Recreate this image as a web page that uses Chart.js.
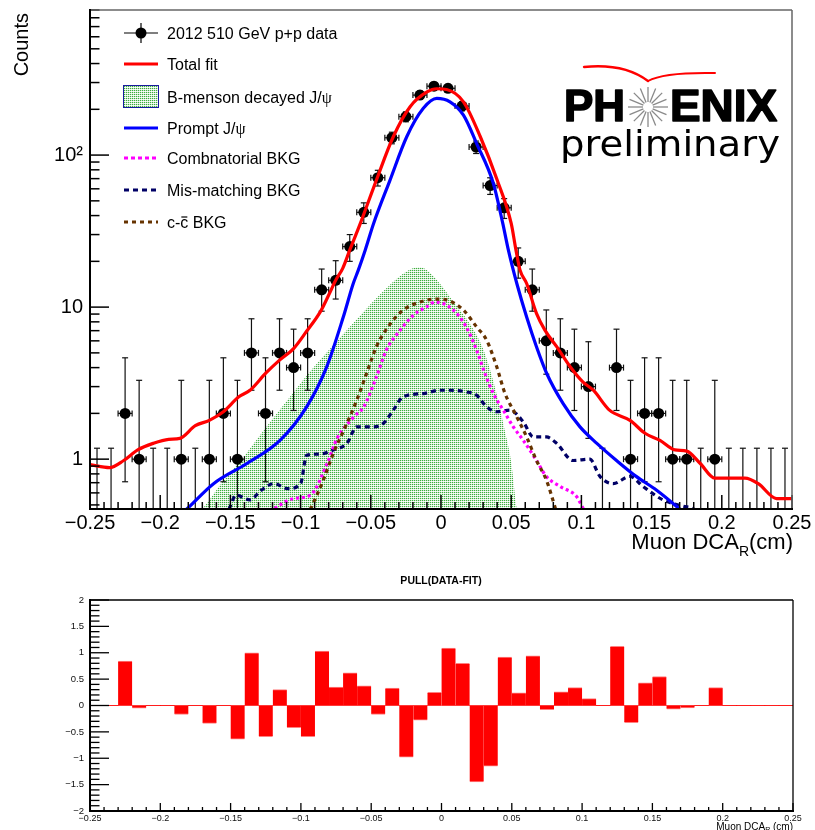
<!DOCTYPE html>
<html>
<head>
<meta charset="utf-8">
<title>Muon DCA_R fit</title>
<script src="https://cdn.jsdelivr.net/npm/chart.js@4.4.1/dist/chart.umd.min.js"></script>
<style>
  html, body { margin: 0; padding: 0; background: #fff; }
  #wrap { position: relative; width: 815px; height: 830px; overflow: hidden; }
  #mainChart { position: absolute; left: 0; top: 0; }
  #pullChart { position: absolute; left: 0; top: 570px; }
</style>
</head>
<body>
<div id="wrap">
  <canvas id="mainChart" width="815" height="560"></canvas>
  <canvas id="pullChart" width="815" height="260"></canvas>
</div>
<script>
const SANS = "'Liberation Sans', Arial, Helvetica, sans-serif";
Chart.defaults.font.family = SANS;
Chart.defaults.color = '#000';

// histogram bins (Muon DCA_R, cm)
const binCenters = [-0.245, -0.235, -0.225, -0.215, -0.205, -0.195, -0.185, -0.175, -0.165, -0.155,
                    -0.145, -0.135, -0.125, -0.115, -0.105, -0.095, -0.085, -0.075, -0.065, -0.055,
                    -0.045, -0.035, -0.025, -0.015, -0.005, 0.005, 0.015, 0.025, 0.035, 0.045,
                    0.055, 0.065, 0.075, 0.085, 0.095, 0.105, 0.115, 0.125, 0.135, 0.145,
                    0.155, 0.165, 0.175, 0.185, 0.195, 0.205, 0.215, 0.225, 0.235, 0.245];
const binWidth = 0.01;

// 2012 510 GeV p+p data
const counts = [0, 0, 2, 1, 0, 0, 1, 0, 1, 2,
                1, 5, 2, 5, 4, 5, 13, 15, 25, 42,
                71, 130, 179, 248, 284, 275, 210, 113, 63, 45,
                20, 13, 6, 5, 4, 3, 0, 4, 1, 2,
                2, 1, 1, 0, 1, 0, 0, 0, 0, 0];
const errLo = [0, 0, 0.71, 0.17, 0, 0, 0.17, 0, 0.17, 0.71,
               0.17, 2.84, 0.71, 2.84, 2.09, 2.84, 9.4, 11.3, 20, 35.5,
               62.6, 118.6, 165.6, 232.3, 267.1, 258.4, 195.5, 102.4, 55.1, 38.3,
               15.5, 9.4, 3.62, 2.84, 2.09, 1.37, 0, 2.09, 0.17, 0.71,
               0.71, 0.17, 0.17, 0, 0.17, 0, 0, 0, 0, 0];
const errHi = [1.18, 1.18, 4.64, 3.3, 1.18, 1.18, 3.3, 1.18, 3.3, 4.64,
               3.3, 8.38, 4.64, 8.38, 7.16, 8.38, 17.8, 20.2, 30, 48.5,
               79.4, 141.4, 192.4, 263.7, 300.9, 291.6, 224.5, 123.6, 70.9, 51.7,
               24.5, 17.8, 9.58, 8.38, 7.16, 5.92, 1.18, 7.16, 3.3, 4.64,
               4.64, 3.3, 3.3, 1.18, 3.3, 1.18, 1.18, 1.18, 1.18, 1.18];

// pull (data - fit)
const pull = [0, 0, 0.84, -0.05, 0, 0, -0.17, 0, -0.34, 0,
              -0.64, 1.0, -0.59, 0.30, -0.42, -0.59, 1.03, 0.35, 0.62, 0.375,
              -0.17, 0.33, -0.98, -0.28, 0.25, 1.09, 0.80, -1.45, -1.15, 0.92,
              0.24, 0.94, -0.08, 0.26, 0.34, 0.13, 0, 1.12, -0.325, 0.43,
              0.55, -0.07, -0.045, 0, 0.34, 0, 0, 0, 0, 0];

// fit components
const fitX = [-0.25, -0.236, -0.226, -0.216, -0.205, -0.194, -0.186, -0.175, -0.165, -0.155,
              -0.144, -0.136, -0.125, -0.115, -0.105, -0.096, -0.086, -0.08, -0.075, -0.07,
              -0.065, -0.058, -0.046, -0.034, -0.022, -0.01, -0.003, 0.004, 0.016, 0.028,
              0.04, 0.05, 0.0534, 0.0563, 0.061, 0.068, 0.074, 0.0824, 0.092, 0.101,
              0.1085, 0.12, 0.1346, 0.1453, 0.156, 0.1667, 0.175, 0.1845, 0.195, 0.2058,
              0.2165, 0.226, 0.239, 0.25];
const fitY = [0.92, 0.88, 0.98, 1.15, 1.27, 1.35, 1.37, 1.66, 1.80, 2.05,
              2.57, 2.84, 3.66, 4.48, 5.34, 6.88, 9.3, 12, 15, 18,
              23.7, 34.5, 68.5, 132, 208, 260, 273, 270, 224, 132,
              68.5, 35.5, 23.7, 17.5, 14.3, 9.1, 7.06, 5.49, 4.05, 3.22,
              2.84, 2.10, 1.80, 1.48, 1.33, 1.15, 1.13, 0.94, 0.75, 0.75,
              0.75, 0.69, 0.55, 0.55];

const promptX = [-0.187, -0.181, -0.162, -0.138, -0.1147, -0.0957, -0.0814, -0.0696, -0.0625, -0.0589,
                 -0.054, -0.048, -0.0363, -0.0244, -0.0126, -0.003, 0.0064, 0.016, 0.0254, 0.0373,
                 0.044, 0.048, 0.054, 0.061, 0.068, 0.0753, 0.087, 0.099, 0.111, 0.125,
                 0.139, 0.1536, 0.170, 0.176];
const promptY = [0.42, 0.47, 0.69, 0.94, 1.33, 2.21, 4.05, 8.6, 14.3, 17.5,
                 23.7, 35.5, 68.5, 132, 203, 236, 224, 183, 119, 65,
                 35.5, 23.7, 14.3, 8.6, 5.49, 3.66, 2.32, 1.63, 1.27, 0.98,
                 0.77, 0.625, 0.47, 0.42];

const bmesonX = [-0.176, -0.17, -0.155, -0.14, -0.125, -0.11, -0.095, -0.08, -0.065, -0.05,
                 -0.04, -0.03, -0.02, -0.015, -0.01, 0, 0.01, 0.02, 0.03, 0.04,
                 0.045, 0.05, 0.054, 0.056];
const bmesonY = [0.42, 0.47, 0.72, 1.05, 1.6, 2.4, 3.6, 5.2, 7.4, 10.5,
                 13, 15.8, 18.0, 18.3, 17.5, 14.0, 10.5, 7.9, 5.3, 2.6,
                 1.6, 0.95, 0.47, 0.42];

const combX = [-0.125, -0.118, -0.105, -0.093, -0.081, -0.074, -0.062, -0.055, -0.046, -0.039,
               -0.029, -0.0197, -0.0102, -0.004, 0.0088, 0.018, 0.0254, 0.0313, 0.0373, 0.0444,
               0.0515, 0.0586, 0.068, 0.075, 0.085, 0.0967, 0.1015, 0.105];
const combY = [0.42, 0.476, 0.55, 0.58, 0.94, 1.37, 1.90, 2.21, 3.48, 5.2,
               7.06, 8.85, 10.05, 10.8, 9.55, 7.4, 5.2, 3.66, 2.7, 2.1,
               1.63, 1.33, 0.98, 0.77, 0.66, 0.565, 0.47, 0.42];

const misX = [-0.155, -0.151, -0.146, -0.136, -0.128, -0.119, -0.109, -0.1, -0.0957, -0.086,
              -0.0767, -0.067, -0.06, -0.048, -0.041, -0.034, -0.027, -0.0126, -0.0007, 0.0064,
              0.018, 0.0254, 0.0325, 0.0397, 0.049, 0.0586, 0.0657, 0.075, 0.0824, 0.094,
              0.106, 0.1132, 0.1227, 0.1346, 0.144, 0.158, 0.1726, 0.18, 0.185];
const misY = [0.42, 0.47, 0.58, 0.54, 0.625, 0.69, 0.64, 0.69, 1.06, 1.08,
              1.15, 1.27, 1.63, 1.63, 1.72, 2.10, 2.57, 2.70, 2.84, 2.84,
              2.77, 2.63, 2.21, 2.05, 2.1, 1.76, 1.40, 1.40, 1.27, 0.98,
              1.0, 0.77, 0.69, 0.77, 0.66, 0.54, 0.49, 0.47, 0.42];

const ccbarX = [-0.096, -0.093, -0.0838, -0.0767, -0.067, -0.06, -0.053, -0.046, -0.036, -0.027,
                -0.015, -0.003, 0.006, 0.016, 0.0254, 0.0325, 0.0397, 0.0456, 0.0527, 0.061,
                0.068, 0.075, 0.081, 0.083];
const ccbarY = [0.42, 0.47, 0.73, 1.09, 1.72, 2.44, 3.66, 5.49, 7.8, 9.55,
                10.8, 11.3, 11.0, 9.55, 7.4, 6.06, 4.05, 2.7, 2.0, 1.40,
                0.98, 0.73, 0.49, 0.42];

// axis ticks
const xTicks = [-0.25, -0.2, -0.15, -0.1, -0.05, 0, 0.05, 0.1, 0.15, 0.2, 0.25];
const yTicks = [1, 10, 100];
const yTickLabels = ['1', '10', '10\u00b2'];
const pullTicks = [-2, -1.5, -1, -0.5, 0, 0.5, 1, 1.5, 2];

const zip = (xs, ys) => xs.slice(0, Math.min(xs.length, ys.length)).map((x, i) => ({ x: x, y: ys[i] }));

function fmtTick(v) {
  const s = String(Math.round(v * 100) / 100);
  return s === '-0' ? '0' : s.replace('-', '\u2212');
}

function line(ctx, x1, y1, x2, y2) {
  ctx.beginPath();
  ctx.moveTo(x1, y1);
  ctx.lineTo(x2, y2);
  ctx.stroke();
}

// ROOT-like stippled green fill
function makeStipple(ctx) {
  const c = document.createElement('canvas');
  c.width = 2; c.height = 2;
  const g = c.getContext('2d');
  g.fillStyle = '#ffffff'; g.fillRect(0, 0, 2, 2);
  g.fillStyle = '#3fae3f'; g.fillRect(0, 0, 1, 1);
  g.fillStyle = '#c6e8c6'; g.fillRect(1, 0, 1, 1);
  g.fillStyle = '#e2f3e2'; g.fillRect(0, 1, 1, 1);
  return ctx.createPattern(c, 'repeat');
}

const mainCtx = document.getElementById('mainChart').getContext('2d');
const stipple = makeStipple(mainCtx);

function curve(label, xs, ys, color, dash) {
  return {
    label: label,
    data: zip(xs, ys),
    showLine: true,
    borderColor: color,
    borderWidth: 3.2,
    borderDash: dash,
    pointRadius: 0,
    cubicInterpolationMode: 'monotone',
    clip: 0
  };
}

// ---------------- legend + logo ----------------
const legendRows = [33, 64, 97, 128, 158, 190, 222];

function drawLegend(ctx) {
  const x1 = 124, x2 = 158, xm = 141, tx = 167;
  ctx.save();
  ctx.lineCap = 'butt';
  // data marker
  ctx.strokeStyle = '#000'; ctx.lineWidth = 1.2;
  line(ctx, x1, legendRows[0], x2, legendRows[0]);
  line(ctx, xm, legendRows[0] - 10, xm, legendRows[0] + 10);
  ctx.fillStyle = '#000';
  ctx.beginPath(); ctx.arc(xm, legendRows[0], 5.5, 0, Math.PI * 2); ctx.fill();
  // lines
  const lines = [[1, '#ff0000', []], [3, '#0000ff', []], [4, '#ff00ff', [4, 3]], [5, '#000066', [5, 4]], [6, '#663300', [4, 4]]];
  lines.forEach(([r, col, dash]) => {
    ctx.strokeStyle = col; ctx.lineWidth = 3; ctx.setLineDash(dash);
    line(ctx, x1, legendRows[r], x2, legendRows[r]);
  });
  ctx.setLineDash([]);
  // B-meson box
  ctx.fillStyle = stipple;
  ctx.fillRect(123, legendRows[2] - 12, 36, 23);
  ctx.strokeStyle = '#1a1aa0'; ctx.lineWidth = 1;
  ctx.strokeRect(123.5, legendRows[2] - 11.5, 35, 22);

  // texts
  ctx.fillStyle = '#000';
  ctx.textBaseline = 'alphabetic';
  ctx.textAlign = 'left';
  const f = `16px ${SANS}`, fs = "16px 'Liberation Serif', 'DejaVu Serif', serif";
  const runs = (row, parts) => {
    let x = tx;
    const y = legendRows[row] + 6;
    const pos = [];
    parts.forEach(([t, font]) => {
      ctx.font = font;
      ctx.fillText(t, x, y);
      const w = ctx.measureText(t).width;
      pos.push([x, w]);
      x += w;
    });
    return pos;
  };
  runs(0, [['2012 510 GeV p+p data', f]]);
  runs(1, [['Total fit', f]]);
  runs(2, [['B-menson decayed J/', f], ['\u03c8', fs]]);
  runs(3, [['Prompt J/', f], ['\u03c8', fs]]);
  runs(4, [['Combnatorial BKG', f]]);
  runs(5, [['Mis-matching BKG', f]]);
  const p = runs(6, [['c-', f], ['c', f], [' BKG', f]]);
  ctx.strokeStyle = '#000'; ctx.lineWidth = 1.2;
  line(ctx, p[1][0] + 1, legendRows[6] - 5, p[1][0] + p[1][1] - 1, legendRows[6] - 5);
  ctx.restore();
}

function fitText(ctx, s, x, y, w, stroke) {
  const m = ctx.measureText(s).width;
  ctx.save();
  ctx.translate(x, y);
  ctx.scale(w / m, 1);
  ctx.fillText(s, 0, 0);
  if (stroke) ctx.strokeText(s, 0, 0);
  ctx.restore();
}

function drawLogo(ctx) {
  ctx.save();
  ctx.strokeStyle = '#ff0000'; ctx.lineCap = 'round';
  ctx.lineWidth = 2.4;
  ctx.beginPath(); ctx.moveTo(584, 67); ctx.quadraticCurveTo(624, 63, 648, 81); ctx.stroke();
  ctx.lineWidth = 2;
  ctx.beginPath(); ctx.moveTo(648, 81); ctx.quadraticCurveTo(664, 72, 715, 73); ctx.stroke();
  // starburst in place of the O
  ctx.strokeStyle = '#8a8a8a'; ctx.lineWidth = 1.3; ctx.lineCap = 'butt';
  for (let k = 0; k < 16; k++) {
    const t = k * Math.PI / 8;
    line(ctx, 648 + 5 * Math.cos(t), 107 + 5 * Math.sin(t), 648 + 20 * Math.cos(t), 107 + 20 * Math.sin(t));
  }
  ctx.fillStyle = '#000'; ctx.strokeStyle = '#000'; ctx.lineWidth = 1.6; ctx.lineJoin = 'round';
  ctx.textBaseline = 'alphabetic'; ctx.textAlign = 'left';
  ctx.font = `bold 44px ${SANS}`;
  fitText(ctx, 'PH', 564, 121, 61, true);
  fitText(ctx, 'ENIX', 670, 121, 107, true);
  ctx.font = "35px 'DejaVu Sans', sans-serif";
  fitText(ctx, 'preliminary', 560, 156, 220, false);
  ctx.restore();
}

// ---------------- main plot decorations ----------------
const mainDecor = {
  id: 'mainDecor',
  beforeDatasetDraw(chart, args) {
    if (chart.data.datasets[args.index].label !== 'data') return;
    const { ctx, chartArea: a, scales: { x, y } } = chart;
    ctx.save();
    ctx.beginPath(); ctx.rect(a.left, a.top, a.right - a.left, a.bottom - a.top); ctx.clip();
    ctx.strokeStyle = '#111'; ctx.lineWidth = 1.2;
    binCenters.forEach((c, i) => {
      const xc = x.getPixelForValue(c);
      const yHi = y.getPixelForValue(errHi[i]);
      const yLo = errLo[i] > 0 ? y.getPixelForValue(errLo[i]) : a.bottom + 5;
      line(ctx, xc, yHi, xc, yLo);
      line(ctx, xc - 3, yHi, xc + 3, yHi);
      if (errLo[i] > 0) line(ctx, xc - 3, yLo, xc + 3, yLo);
      if (counts[i] > 0) {
        const yc = y.getPixelForValue(counts[i]);
        const xl = x.getPixelForValue(c - binWidth / 2), xr = x.getPixelForValue(c + binWidth / 2);
        line(ctx, xl, yc, xr, yc);
        line(ctx, xl, yc - 3, xl, yc + 3);
        line(ctx, xr, yc - 3, xr, yc + 3);
      }
    });
    ctx.restore();
  },
  afterDraw(chart) {
    const { ctx, chartArea: a, scales: { x, y } } = chart;
    ctx.save();
    // ticks, drawn inwards like ROOT
    ctx.strokeStyle = '#000'; ctx.lineWidth = 1.5;
    for (let k = -25; k <= 25; k++) {
      const px = x.getPixelForValue(k / 100);
      line(ctx, px, a.bottom, px, a.bottom - (k % 5 === 0 ? 14 : 7));
    }
    for (let d = -1; d <= 2; d++) {
      for (let m = 1; m <= 9; m++) {
        const v = m * Math.pow(10, d);
        if (v < y.min || v > y.max) continue;
        const py = y.getPixelForValue(v);
        line(ctx, a.left, py, a.left + (m === 1 ? 19 : 9.5), py);
      }
    }
    // frame
    ctx.strokeStyle = '#666'; ctx.lineWidth = 1.5;
    line(ctx, a.left, a.top, a.right, a.top);
    line(ctx, a.right, a.top, a.right, a.bottom);
    ctx.strokeStyle = '#000'; ctx.lineWidth = 2;
    line(ctx, a.left, a.top - 1, a.left, a.bottom + 1);
    line(ctx, a.left - 1, a.bottom, a.right + 1, a.bottom);

    // axis titles
    ctx.fillStyle = '#000'; ctx.textBaseline = 'alphabetic'; ctx.textAlign = 'left';
    const big = `22px ${SANS}`, sub = `14px ${SANS}`;
    ctx.font = big; const w1 = ctx.measureText('Muon DCA').width, w3 = ctx.measureText('(cm)').width;
    ctx.font = sub; const w2 = ctx.measureText('R').width;
    let tx = a.right + 1 - (w1 + w2 + w3);
    ctx.font = big; ctx.fillText('Muon DCA', tx, 549); tx += w1;
    ctx.font = sub; ctx.fillText('R', tx, 556); tx += w2;
    ctx.font = big; ctx.fillText('(cm)', tx, 549);

    ctx.save();
    ctx.translate(28, 13);
    ctx.rotate(-Math.PI / 2);
    ctx.textAlign = 'right';
    ctx.font = `20px ${SANS}`;
    ctx.fillText('Counts', 0, 0);
    ctx.restore();

    drawLegend(ctx);
    drawLogo(ctx);
    ctx.restore();
  }
};

new Chart(mainCtx, {
  type: 'scatter',
  data: {
    datasets: [
      curve('Total fit', fitX, fitY, '#ff0000', []),
      curve('Prompt J/psi', promptX, promptY, '#0000ff', []),
      curve('c-cbar BKG', ccbarX, ccbarY, '#663300', [4, 4]),
      curve('Combnatorial BKG', combX, combY, '#ff00ff', [3, 3]),
      curve('Mis-matching BKG', misX, misY, '#000066', [5, 4]),
      {
        label: 'data',
        data: binCenters.map((c, i) => ({ x: c, y: counts[i] > 0 ? counts[i] : null })),
        pointRadius: 5.5,
        pointBackgroundColor: '#000',
        pointBorderColor: '#000',
        pointBorderWidth: 0,
        showLine: false
      },
      {
        label: 'B-menson decayed J/psi',
        data: zip(bmesonX, bmesonY),
        showLine: true,
        borderColor: 'rgba(0,0,0,0)',
        borderWidth: 1,
        pointRadius: 0,
        cubicInterpolationMode: 'monotone',
        fill: 'start',
        backgroundColor: stipple
      }
    ]
  },
  options: {
    responsive: false,
    animation: false,
    events: [],
    layout: { padding: { top: 10, right: 23, bottom: 0, left: 0 }, autoPadding: false },
    plugins: { legend: { display: false }, tooltip: { enabled: false } },
    scales: {
      x: {
        type: 'linear', min: -0.25, max: 0.25,
        grid: { display: false, drawTicks: false },
        border: { display: false },
        afterBuildTicks: s => { s.ticks = xTicks.map(v => ({ value: v })); },
        afterFit: s => { s.height = 51; s.paddingLeft = 0; s.paddingRight = 0; },
        ticks: { font: { size: 20 }, color: '#000', padding: 2, maxRotation: 0, autoSkip: false, callback: fmtTick }
      },
      y: {
        type: 'logarithmic', min: 0.47, max: 900,
        grid: { display: false, drawTicks: false },
        border: { display: false },
        afterBuildTicks: s => { s.ticks = yTicks.map(v => ({ value: v })); },
        afterFit: s => { s.width = 90; s.paddingTop = 0; s.paddingBottom = 0; },
        ticks: { font: { size: 20 }, color: '#000', padding: 7, autoSkip: false,
                 callback: v => yTickLabels[yTicks.indexOf(v)] }
      }
    }
  },
  plugins: [mainDecor]
});

// ---------------- pull plot ----------------
const pullDecor = {
  id: 'pullDecor',
  beforeDatasetsDraw(chart) {
    const { ctx, chartArea: a, scales: { y } } = chart;
    ctx.save();
    ctx.strokeStyle = '#ff5a5a'; ctx.lineWidth = 1;
    line(ctx, a.left, y.getPixelForValue(0), a.right, y.getPixelForValue(0));
    ctx.restore();
  },
  afterDraw(chart) {
    const { ctx, chartArea: a, scales: { x, y } } = chart;
    ctx.save();
    ctx.strokeStyle = '#000'; ctx.lineWidth = 1.3;
    for (let k = -25; k <= 25; k++) {
      const px = x.getPixelForValue(k / 100);
      line(ctx, px, a.bottom, px, a.bottom - (k % 5 === 0 ? 8 : 4));
    }
    for (let k = -20; k <= 20; k++) {
      const py = y.getPixelForValue(k / 10);
      line(ctx, a.left, py, a.left + (k % 5 === 0 ? 19 : 9.5), py);
    }
    ctx.lineWidth = 1.3;
    line(ctx, a.left, a.top, a.right, a.top);
    line(ctx, a.right, a.top, a.right, a.bottom);
    ctx.lineWidth = 2;
    line(ctx, a.left, a.top - 1, a.left, a.bottom + 1);
    line(ctx, a.left - 1, a.bottom, a.right + 1, a.bottom);

    ctx.fillStyle = '#000';
    ctx.textAlign = 'center'; ctx.textBaseline = 'middle';
    ctx.font = `bold 10.5px ${SANS}`;
    ctx.fillText('PULL(DATA-FIT)', 441, 11);

    ctx.textAlign = 'left'; ctx.textBaseline = 'alphabetic';
    const big = `10px ${SANS}`, sub = `7px ${SANS}`;
    ctx.font = big; const w1 = ctx.measureText('Muon DCA').width, w3 = ctx.measureText(' (cm)').width;
    ctx.font = sub; const w2 = ctx.measureText('R').width;
    let tx = a.right - (w1 + w2 + w3);
    ctx.font = big; ctx.fillText('Muon DCA', tx, 260); tx += w1;
    ctx.font = sub; ctx.fillText('R', tx, 262); tx += w2;
    ctx.font = big; ctx.fillText(' (cm)', tx, 260);
    ctx.restore();
  }
};

new Chart(document.getElementById('pullChart').getContext('2d'), {
  type: 'bar',
  data: {
    datasets: [{
      label: 'pull',
      data: binCenters.map((c, i) => ({ x: c, y: pull[i] })),
      backgroundColor: '#ff0000',
      borderColor: '#ff8080',
      borderWidth: ctx => (ctx.raw && ctx.raw.y < 0) ? { bottom: 1 } : { top: 1 },
      borderSkipped: false,
      barPercentage: 1,
      categoryPercentage: 1,
      grouped: false
    }]
  },
  options: {
    responsive: false,
    animation: false,
    events: [],
    layout: { padding: { top: 30, right: 22, bottom: 0, left: 0 }, autoPadding: false },
    plugins: { legend: { display: false }, tooltip: { enabled: false } },
    scales: {
      x: {
        type: 'linear', min: -0.25, max: 0.25, offset: false,
        grid: { display: false, drawTicks: false, offset: false },
        border: { display: false },
        afterBuildTicks: s => { s.ticks = xTicks.map(v => ({ value: v })); },
        afterFit: s => { s.height = 19; s.paddingLeft = 0; s.paddingRight = 0; },
        ticks: { font: { size: 9 }, color: '#111', padding: 2, maxRotation: 0, autoSkip: false, callback: fmtTick }
      },
      y: {
        type: 'linear', min: -2, max: 2,
        grid: { display: false, drawTicks: false },
        border: { display: false },
        afterBuildTicks: s => { s.ticks = pullTicks.map(v => ({ value: v })); },
        afterFit: s => { s.width = 90; s.paddingTop = 0; s.paddingBottom = 0; },
        ticks: { font: { size: 9.5 }, color: '#111', padding: 6, autoSkip: false, callback: fmtTick }
      }
    }
  },
  plugins: [pullDecor]
});
</script>
</body>
</html>
